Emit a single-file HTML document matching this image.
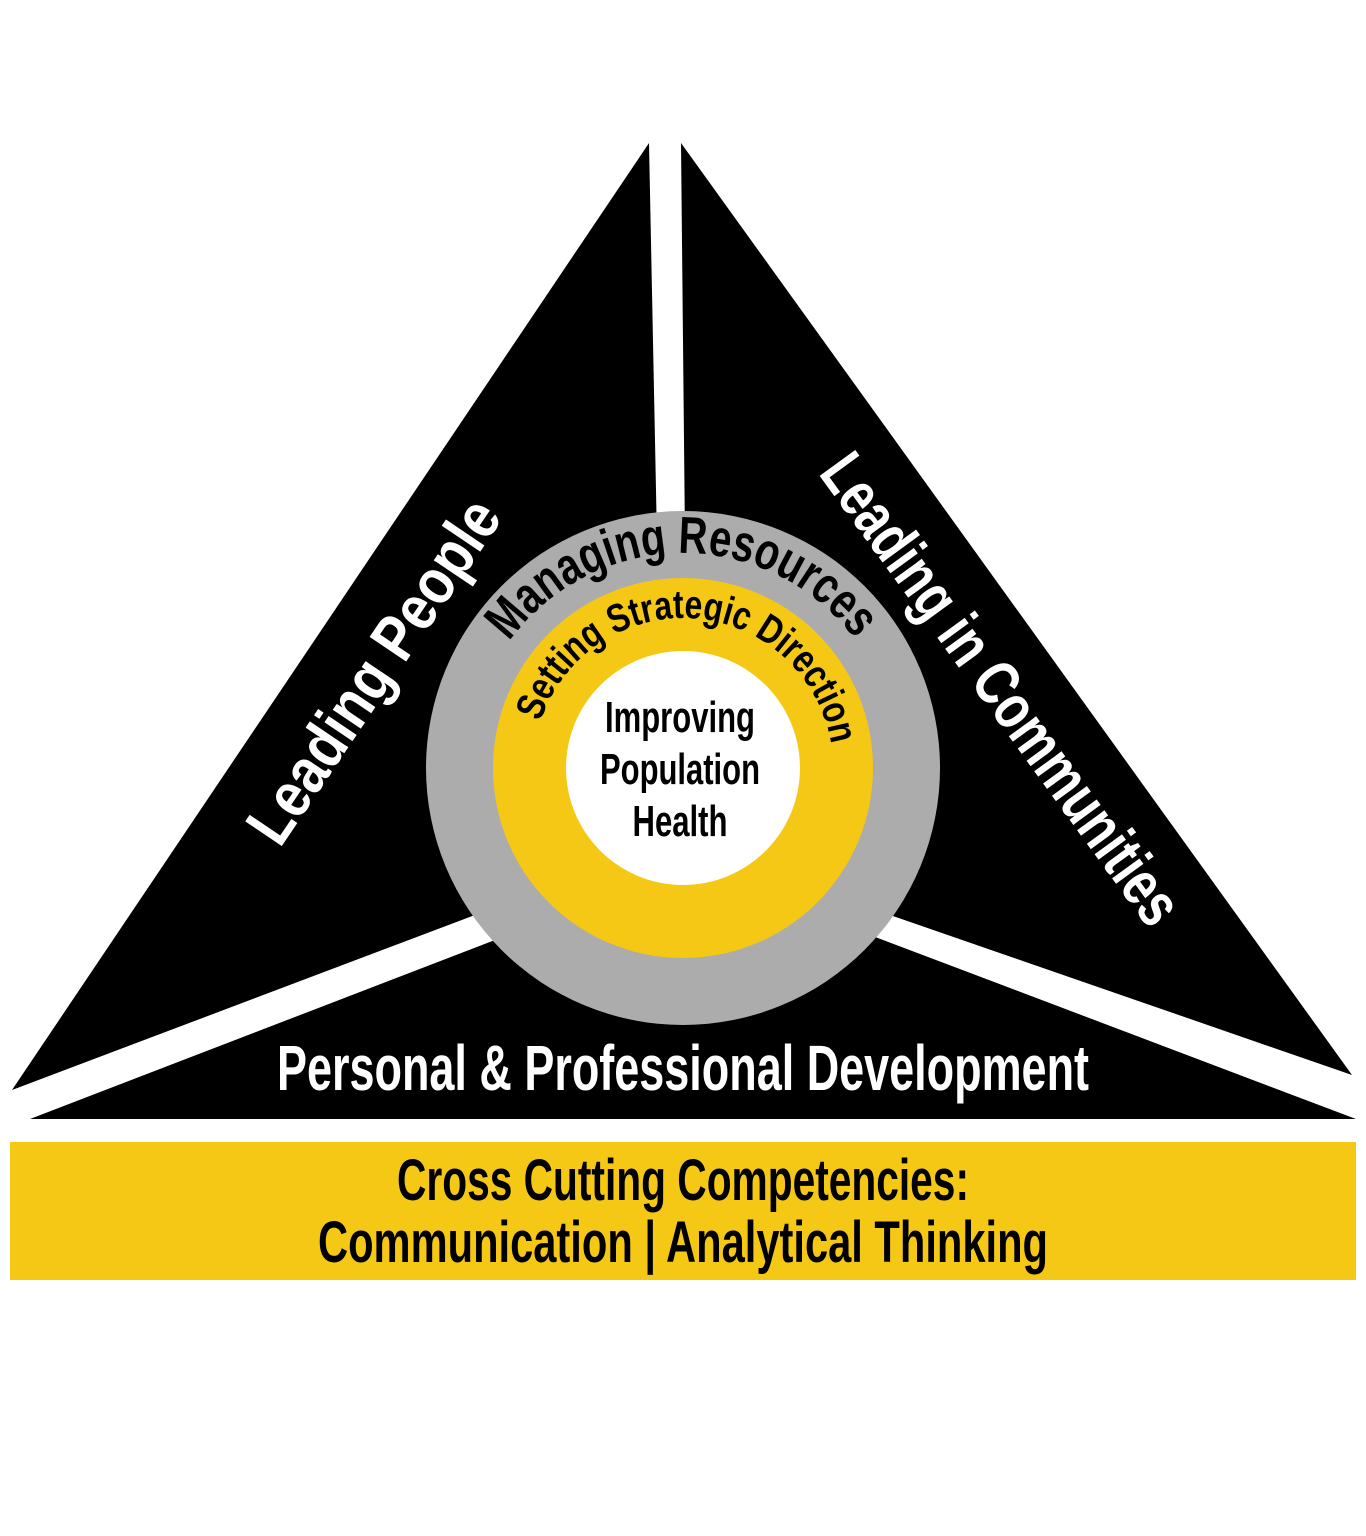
<!DOCTYPE html>
<html><head><meta charset="utf-8"><style>
html,body{margin:0;padding:0;background:#fff;}
svg{display:block;}
text{font-family:"Liberation Sans Narrow","Liberation Sans",sans-serif;font-weight:bold;}
</style></head><body>
<svg width="1366" height="1536" viewBox="0 0 1366 1536" xmlns="http://www.w3.org/2000/svg">
<rect width="1366" height="1536" fill="#fff"/>
<polygon points="649,143 657,540 475,915 12,1090" fill="#000"/>
<polygon points="681,143 685,540 890,915 1352,1075" fill="#000"/>
<polygon points="30,1119 495,940 870,935 1356,1119" fill="#000"/>
<circle cx="683" cy="768" r="257" fill="#acacac"/>
<circle cx="683" cy="768" r="190" fill="#f5c816"/>
<circle cx="683" cy="768" r="117" fill="#fff"/>
<defs>
<path id="mr" d="M 468 768 A 215 215 0 0 1 898 768"/>
<path id="ssd" d="M 533 768 A 150 150 0 0 1 833 768"/>
</defs>
<text font-size="52" fill="#000"><textPath href="#mr" startOffset="135" textLength="402" lengthAdjust="spacingAndGlyphs">Managing Resources</textPath></text>
<text font-size="40" fill="#000"><textPath href="#ssd" startOffset="47" textLength="400" lengthAdjust="spacingAndGlyphs">Setting Strategic Direction</textPath></text>
<text x="680" y="732" font-size="44" text-anchor="middle" fill="#000" textLength="150" lengthAdjust="spacingAndGlyphs">Improving</text>
<text x="680" y="784" font-size="44" text-anchor="middle" fill="#000" textLength="160" lengthAdjust="spacingAndGlyphs">Population</text>
<text x="680" y="836" font-size="44" text-anchor="middle" fill="#000" textLength="95" lengthAdjust="spacingAndGlyphs">Health</text>
<text transform="translate(375,672) rotate(-56)" font-size="64" fill="#fff" text-anchor="middle" dy="20" textLength="400" lengthAdjust="spacingAndGlyphs">Leading People</text>
<text transform="translate(1000,690) rotate(54)" font-size="64" fill="#fff" text-anchor="middle" dy="20" textLength="565" lengthAdjust="spacingAndGlyphs">Leading in Communities</text>
<text x="683" y="1090" font-size="64" fill="#fff" text-anchor="middle" textLength="812" lengthAdjust="spacingAndGlyphs">Personal &amp; Professional Development</text>
<rect x="10" y="1142" width="1346" height="138" fill="#f5c816"/>
<text x="683" y="1200" font-size="58" fill="#000" text-anchor="middle" textLength="572" lengthAdjust="spacingAndGlyphs">Cross Cutting Competencies:</text>
<text x="683" y="1262" font-size="58" fill="#000" text-anchor="middle" textLength="730" lengthAdjust="spacingAndGlyphs">Communication | Analytical Thinking</text>
</svg>
</body></html>
